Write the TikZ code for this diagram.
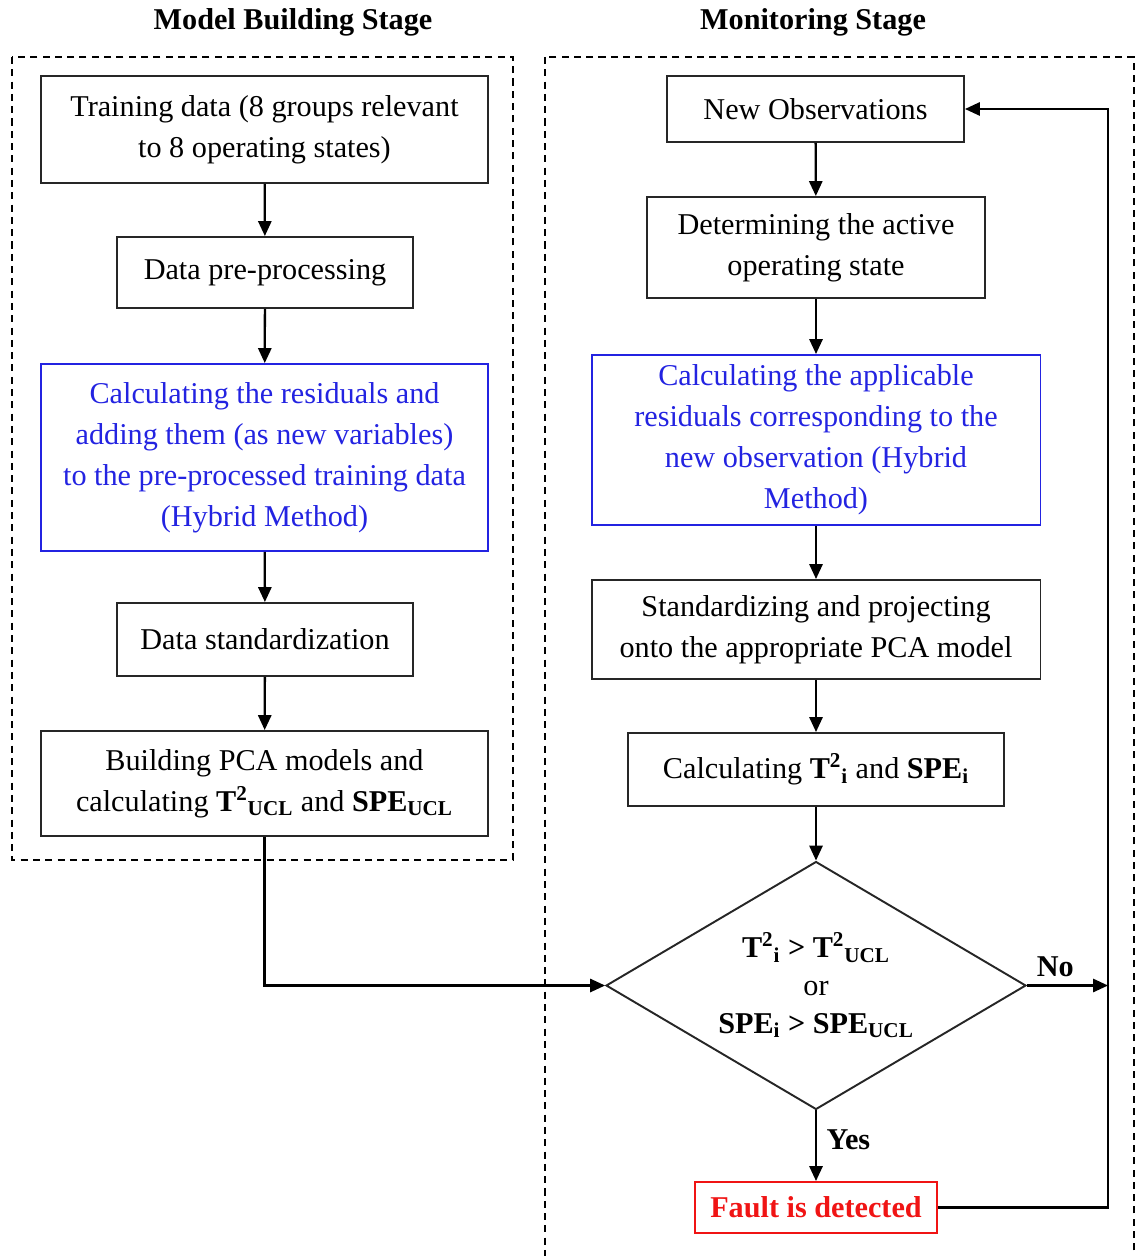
\documentclass[tikz,border=0pt]{standalone}
\usepackage{fontspec}
\setmainfont{Liberation Serif}
\usetikzlibrary{arrows.meta, shapes.geometric, positioning, calc}
\definecolor{hybridblue}{RGB}{35,35,225}
\definecolor{faultred}{RGB}{240,20,20}

\begin{document}
\begin{tikzpicture}[
    x=0.02cm, y=-0.02cm,
    box/.style={draw=black!85, line width=1.1pt, align=center, inner sep=2pt,
                font=\fontsize{17.2}{23.3}\selectfont},
    hyb/.style={box, draw=hybridblue, text=hybridblue},
    alarm/.style={box, draw=faultred, text=faultred, font=\fontsize{17.2}{23.3}\selectfont\bfseries},
    decide/.style={diamond, aspect=1.69, draw=black!85, line width=1.1pt, align=center, inner sep=0pt,
                   font=\fontsize{17.2}{21.5}\selectfont},
    stage/.style={line width=0.8pt, dash pattern=on 4pt off 3pt},
    title/.style={font=\fontsize{17.2}{20}\selectfont\bfseries},
    lbl/.style={font=\fontsize{17.2}{20}\selectfont\bfseries},
    arr/.style={-{Triangle[length=8.5pt,width=7.5pt]}, line width=1.3pt}
  ]
    \useasboundingbox (0,0) rectangle (1136,1256);

    \draw[stage] (12,57) rectangle (513,860);
    \draw[stage] (545,57) rectangle (1134,1300);
    \node[title] (ttl1) at (293,22) {Model Building Stage};
    \node[title] (ttl2) at (813,22) {Monitoring Stage};

    \node[box, minimum width=8.94cm, minimum height=2.14cm] (train) at (264.5,129.5) {Training data (8 groups relevant\\to 8 operating states)};
    \node[box, minimum width=5.92cm, minimum height=1.42cm] (prep) at (265,272.5) {Data pre-processing};
    \node[hyb, minimum width=8.94cm, minimum height=3.74cm] (resid) at (264.5,457.5) {Calculating the residuals and\\adding them (as new variables)\\to the pre-processed training data\\(Hybrid Method)};
    \node[box, minimum width=5.92cm, minimum height=1.46cm] (stdz) at (265,639.5) {Data standardization};
    \node[box, minimum width=8.94cm, minimum height=2.1cm] (build) at (264.5,783.5) {Building PCA models and\\calculating \textbf{T\textsuperscript{2}\textsubscript{UCL}} and \textbf{SPE\textsubscript{UCL}}};

    \node[box, minimum width=5.94cm, minimum height=1.32cm] (newobs) at (815.5,109) {New Observations};
    \node[box, minimum width=6.76cm, minimum height=2.02cm] (active) at (816,247.5) {Determining the active\\operating state};
    \node[hyb, minimum width=8.98cm, minimum height=3.4cm] (appres) at (816,440) {Calculating the applicable\\residuals corresponding to the\\new observation (Hybrid\\Method)};
    \node[box, minimum width=8.98cm, minimum height=1.98cm] (proj) at (816,629.5) {Standardizing and projecting\\onto the appropriate PCA model};
    \node[box, minimum width=7.52cm, minimum height=1.46cm] (calc) at (816,769.5) {Calculating \textbf{T\textsuperscript{2}\textsubscript{i}} and \textbf{SPE\textsubscript{i}}};
    \node[decide, minimum width=8.4cm, minimum height=4.96cm] (check) at (816,985.5) {\textbf{T\textsuperscript{2}\textsubscript{i} > T\textsuperscript{2}\textsubscript{UCL}}\\or\\\textbf{SPE\textsubscript{i} > SPE\textsubscript{UCL}}};
    \node[alarm, minimum width=4.84cm, minimum height=1.02cm] (fault) at (816,1207.5) {Fault is detected};
    \coordinate (nojoin) at (1108,985.5);

    \draw[arr] (train) -- (prep);
    \draw[arr] (prep) -- (resid);
    \draw[arr] (resid) -- (stdz);
    \draw[arr] (stdz) -- (build);
    \draw[arr] (build.south) |- (check.west);

    \draw[arr] (newobs) -- (active);
    \draw[arr] (active) -- (appres);
    \draw[arr] (appres) -- (proj);
    \draw[arr] (proj) -- (calc);
    \draw[arr] (calc) -- (check);
    \draw[arr] (check.south) -- node[lbl, right=2pt, pos=0.42] {Yes} (fault.north);
    \draw[arr] (check.east) -- node[lbl, above=1pt, pos=0.35] {No} (nojoin);
    \draw[arr] (fault.east) -| (nojoin) |- (newobs.east);
\end{tikzpicture}
\end{document}
